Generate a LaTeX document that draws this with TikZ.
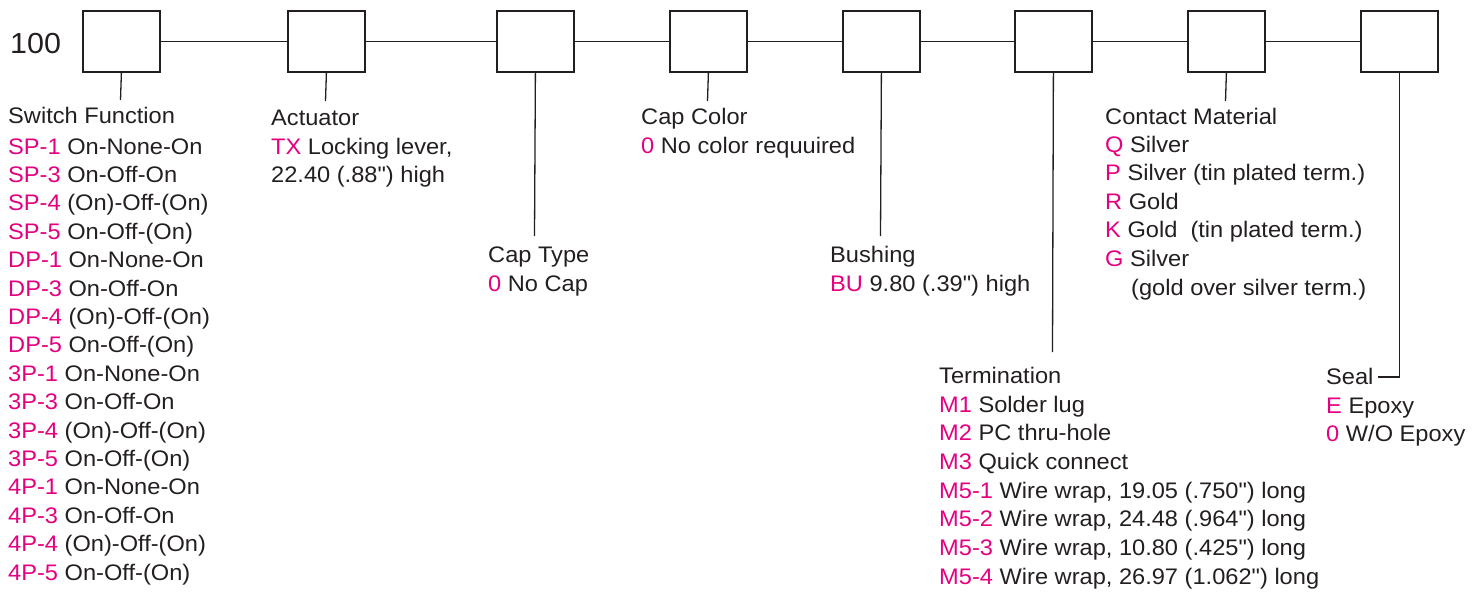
\documentclass[tikz,border=0pt]{standalone}
\usepackage{fontspec}
\setmainfont[FakeStretch=1.05,Ligatures=TeXOff]{Liberation Sans}
\definecolor{mgc}{HTML}{E4007F}
\definecolor{ink}{HTML}{231F20}
\newcommand{\mg}[1]{\textcolor{mgc}{#1}}
\newcommand{\dq}{\symbol{34}}
\begin{document}
\begin{tikzpicture}[x=1pt,y=-1pt,
  box/.style={draw=ink, line width=1.8pt, minimum width=77pt, minimum height=61pt, inner sep=0pt, anchor=north west},
  lbl/.style={anchor=base west, inner sep=0pt, text=ink, font=\fontsize{22.5}{28.5}\selectfont},
  wire/.style={draw=ink, line width=1.3pt}]
\useasboundingbox (0,0) rectangle (1483,592);
% title number
\node[anchor=base west, inner sep=0pt, text=ink, font=\fontsize{29}{34}\selectfont] (num) at (10,53) {100};
% boxes
\node[box] (b1) at (82,10) {};
\node[box] (b2) at (287,10) {};
\node[box] (b3) at (496,10) {};
\node[box] (b4) at (669,10) {};
\node[box] (b5) at (842,10) {};
\node[box] (b6) at (1014,10) {};
\node[box] (b7) at (1187,10) {};
\node[box] (b8) at (1360,10) {};
\foreach \a/\b in {b1/b2,b2/b3,b3/b4,b4/b5,b5/b6,b6/b7,b7/b8}
  \draw[wire] (\a.east) -- (\b.west);
% connector ends
\coordinate (e1) at (120.5,100);
\coordinate (e2) at (325.5,101);
\coordinate (e3) at (534.5,236);
\coordinate (e4) at (707.5,101);
\coordinate (e5) at (880.5,236);
\coordinate (e6) at (1052.5,352);
\coordinate (e7) at (1225.5,101);
\coordinate (e8) at (1378,377);
\foreach \a/\e in {b1/e1,b2/e2,b3/e3,b4/e4,b5/e5,b6/e6,b7/e7}
  \draw[wire] (\a.south) -- (\e);
\draw[wire] (b8.south) |- (e8);
% Switch Function
\node[lbl] (sfT) at (8,123) {Switch Function};
\foreach \c/\t [count=\i from 0] in {SP-1/On-None-On,SP-3/On-Off-On,SP-4/(On)-Off-(On),SP-5/On-Off-(On),DP-1/On-None-On,DP-3/On-Off-On,DP-4/(On)-Off-(On),DP-5/On-Off-(On),3P-1/On-None-On,3P-3/On-Off-On,3P-4/(On)-Off-(On),3P-5/On-Off-(On),4P-1/On-None-On,4P-3/On-Off-On,4P-4/(On)-Off-(On),4P-5/On-Off-(On)}
  \node[lbl] (sf\i) at (8,{154+\i*28.4}) {\mg{\c} \t};
% Actuator
\node[lbl] (acT) at (271,125) {Actuator};
\node[lbl] (ac0) at (271,154) {\mg{TX} Locking lever,};
\node[lbl] (ac1) at (271,182) {22.40 (.88\dq) high};
% Cap Type
\node[lbl] (ctT) at (488,262) {Cap Type};
\node[lbl] (ct0) at (488,291) {\mg{0} No Cap};
% Cap Color
\node[lbl] (ccT) at (641,124) {Cap Color};
\node[lbl] (cc0) at (641,153) {\mg{0} No color requuired};
% Bushing
\node[lbl] (buT) at (830,262) {Bushing};
\node[lbl] (bu0) at (830,291) {\mg{BU} 9.80 (.39\dq) high};
% Termination
\node[lbl] (teT) at (939,383) {Termination};
\foreach \c/\t [count=\i from 0] in {M1/Solder lug,M2/PC thru-hole,M3/Quick connect,M5-1/{Wire wrap, 19.05 (.750\dq) long},M5-2/{Wire wrap, 24.48 (.964\dq) long},M5-3/{Wire wrap, 10.80 (.425\dq) long},M5-4/{Wire wrap, 26.97 (1.062\dq) long}}
  \node[lbl] (te\i) at (939,{412+\i*28.7}) {\mg{\c} \t};
% Contact Material
\node[lbl] (cmT) at (1105,124) {Contact Material};
\foreach \c/\t [count=\i from 0] in {Q/Silver,P/Silver (tin plated term.),R/Gold,K/Gold\ \ (tin plated term.),G/Silver}
  \node[lbl] (cm\i) at (1105,{152+\i*28.6}) {\mg{\c} \t};
\node[lbl] (cm5) at (1131,295) {(gold over silver term.)};
% Seal
\node[lbl] (seT) at (1326,384) {Seal};
\node[lbl] (se0) at (1326,413) {\mg{E} Epoxy};
\node[lbl] (se1) at (1326,441) {\mg{0} W/O Epoxy};
\end{tikzpicture}
\end{document}
